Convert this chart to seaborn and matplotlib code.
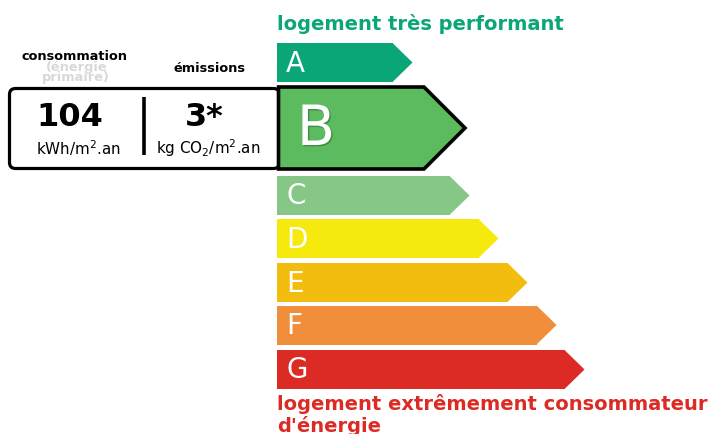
import numpy as np
import pandas as pd
import seaborn as sns
import matplotlib
matplotlib.use("Agg")
import matplotlib.pyplot as plt
from matplotlib.patches import FancyBboxPatch, Polygon
import matplotlib.patheffects as pe

# ---------------- data ----------------
letters = ["A", "B", "C", "D", "E", "F", "G"]
bar_lengths = [116, 147, 173, 202, 231, 260, 288]   # body length of each class arrow
colors = ["#0aa678", "#5bbb5e", "#86c686", "#f5e90e", "#f2bd0f", "#f08e3c", "#dc2a24"]
current_class = "B"
consumption_value = "104"
consumption_unit = r"kWh/m$^2$.an"
emission_value = "3*"
emission_unit = r"kg CO$_2$/m$^2$.an"
top_label = "logement très performant"
bottom_label = ["logement extrêmement consommateur", "d'énergie"]
header_cons = "consommation"
header_cons_sub = ["(énergie", "primaire)"]
header_emis = "émissions"

# ---------------- layout ----------------
W, H = 711, 434
centers = {"A": 62.5, "B": 128, "C": 195.5, "D": 238.5, "E": 282.5, "F": 325, "G": 369.5}
BAR_H = 39
BIG_H = 82
X0 = 277

sns.set_theme(style="white")
plt.rcParams["font.family"] = ["DejaVu Sans"]

fig = plt.figure(figsize=(W / 100, H / 100), dpi=100)
bg = fig.add_axes([0, 0, 1, 1])
bg.set_xlim(0, W)
bg.set_ylim(H, 0)
bg.axis("off")

ax = fig.add_axes([X0 / W, 0, (W - X0) / W, 1])
ax.patch.set_visible(False)

normal = [l for l in letters if l != current_class]
df = pd.DataFrame({
    "letter": normal,
    "length": [bar_lengths[letters.index(l)] for l in normal],
    "pos": [centers[l] for l in normal],
})
pal = {l: colors[letters.index(l)] for l in letters}
min_gap = np.diff(sorted(df["pos"])).min()
sns.barplot(data=df, x="length", y="pos", hue="letter", palette=pal, orient="y",
            native_scale=True, width=BAR_H / min_gap, saturation=1, dodge=False,
            legend=False, linewidth=0, ax=ax)
ax.set_xlim(0, W - X0)
ax.set_ylim(H, 0)
ax.axis("off")

# arrow tips and letters for normal bars
for l in normal:
    L = bar_lengths[letters.index(l)]
    c = centers[l]
    h = BAR_H
    ax.fill([L - 0.5, L + h / 2, L - 0.5], [c - h / 2, c, c + h / 2], color=pal[l], lw=0)
    ax.text(9, c + 1, l, color="white", fontsize=20, ha="left", va="center")

# current class (bigger, outlined)
L = bar_lengths[letters.index(current_class)]
c = centers[current_class]
h = BIG_H
poly = Polygon([[1.5, c - h / 2], [L, c - h / 2], [L + h / 2, c], [L, c + h / 2], [1.5, c + h / 2]],
               closed=True, facecolor=pal[current_class], edgecolor="black", lw=2.6,
               joinstyle="miter", clip_on=False, zorder=3)
ax.add_patch(poly)
ax.text(20, c + 2, current_class, color="white", fontsize=40, ha="left", va="center", zorder=4,
        path_effects=[pe.withSimplePatchShadow(offset=(1.0, -1.0), shadow_rgbFace="black", alpha=0.25)])

# labels above / below
bg.text(X0, 30, top_label, color="#0aa678", fontsize=14, fontweight="bold", ha="left", va="baseline")
bg.text(X0, 410, bottom_label[0], color="#dc2a24", fontsize=14, fontweight="bold", ha="left", va="baseline")
bg.text(X0, 432, bottom_label[1], color="#dc2a24", fontsize=14, fontweight="bold", ha="left", va="baseline")

# left box
box = FancyBboxPatch((9.5, 88.5), 270, 80, boxstyle="round,pad=0,rounding_size=6",
                     facecolor="white", edgecolor="black", lw=2.3)
bg.add_patch(box)
bg.plot([143.5, 143.5], [97, 155], color="black", lw=2.6, solid_capstyle="butt")

bg.text(70, 117, consumption_value, fontsize=23, fontweight="bold", ha="center", va="center", color="black")
bg.text(78, 148, consumption_unit, fontsize=10.9, ha="center", va="center", color="black")
bg.text(204, 117, emission_value, fontsize=23, fontweight="bold", ha="center", va="center", color="black")
bg.text(208, 148, emission_unit, fontsize=10.9, ha="center", va="center", color="black")

bg.text(74, 56, header_cons, fontsize=9.3, fontweight="bold", ha="center", va="center", color="black")
bg.text(77, 68, header_cons_sub[0], fontsize=9.3, fontweight="bold", ha="center", va="center", color="#d8d8d8")
bg.text(76, 77, header_cons_sub[1], fontsize=9.3, fontweight="bold", ha="center", va="center", color="#d8d8d8")
bg.text(209, 68, header_emis, fontsize=9.3, fontweight="bold", ha="center", va="center", color="black")

fig.savefig("out.png", dpi=100)
